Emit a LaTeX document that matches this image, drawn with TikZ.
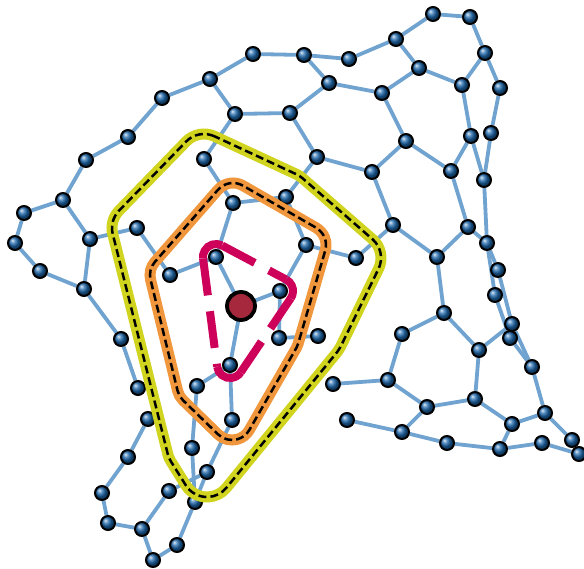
\documentclass[tikz,border=0pt]{standalone}
\usetikzlibrary{calc}
\definecolor{edgec}{RGB}{112,163,207}
\definecolor{nodec}{RGB}{28,102,170}
\definecolor{yel}{RGB}{208,212,30}
\definecolor{orn}{RGB}{240,150,60}
\definecolor{mag}{RGB}{205,0,90}
\definecolor{ctr}{RGB}{165,40,60}
\pgfdeclarelayer{bg}
\pgfsetlayers{bg,main}
\tikzset{
  nd/.style={circle, draw=black, line width=2pt, minimum size=14pt, inner sep=0pt, shading=ball, ball color=nodec},
  ed/.style={draw=edgec, line width=3.8pt},
  ctrnode/.style={circle, draw=black, line width=3.8pt, fill=ctr, minimum size=28pt, inner sep=0pt},
  hullo/.style={draw=black, line width=2.5pt, dash pattern=on 8pt off 4pt, preaction={draw=orn, line width=11pt, solid}},
  hully/.style={draw=black, line width=2.5pt, dash pattern=on 8pt off 4pt, preaction={draw=yel, line width=11pt, solid}},
  magside/.style={draw=mag, line width=8pt, dash pattern=on 37pt off 16pt},
  magarc/.style={draw=mag, line width=8pt}
}
\begin{document}
\begin{tikzpicture}[x=1pt,y=-1pt]
\useasboundingbox (0,0) rectangle (584,569);
\foreach \n/\x/\y in {
 n1/433/14, n2/470/17, n3/396/39, n4/485/53, n5/253/54, n6/304/55, n7/349/59, n8/419/68,
 n9/210/79, n10/329/83, n11/382/93, n12/462/85, n13/500/88, n14/162/98, n15/235/114, n16/290/113,
 n17/128/137, n18/471/136, n19/491/133, n20/86/160, n21/204/159, n22/317/157, n23/406/141, n24/372/172,
 n25/451/171, n26/484/180, n27/63/200, n28/24/213, n29/286/197, n30/233/203, n31/15/243, n32/90/239,
 n33/137/228, n34/393/225, n35/468/227, n36/40/271, n37/170/275, n38/216/257, n39/306/245, n40/356/258,
 n41/437/257, n42/487/243, n43/498/270, n44/84/289, n45/280/291, n46/495/295, n47/444/313,
 n49/121/339, n50/318/336, n51/512/324, n52/510/338, n53/402/334, n54/279/338, n55/479/350, n56/532/367,
 n57/230/365, n58/197/386, n59/138/388, n60/333/384, n61/388/380, n62/148/419, n63/232/420, n64/347/420,
 n65/427/407, n66/475/399, n67/402/432, n68/447/443, n69/500/449, n70/512/424, n71/545/413, n72/542/443,
 n73/572/440, n74/579/454, n75/128/457, n76/192/448, n77/207/472, n78/102/493, n79/169/491, n80/195/502,
 n81/108/523, n82/142/529, n83/177/545, n84/153/560}
 {\node[nd] (\n) at (\x,\y) {};}
\coordinate (c) at (241,306);
\begin{pgfonlayer}{bg}
\foreach \a/\b in {n1/n2,n1/n3,n2/n4,n3/n8,n3/n7,n4/n12,n4/n13,n8/n12,n8/n11,n12/n18,n13/n19,n19/n26,n18/n25,n18/n26,n11/n23,n23/n25,n23/n24,n25/n35,n26/n42,
n5/n6,n5/n9,n9/n14,n6/n7,n6/n10,n10/n16,n10/n11,n15/n16,n15/n9,n15/n21,n16/n22,n22/n24,n22/n29,n24/n34,n21/n30,
n14/n17,n17/n20,n20/n27,n27/n28,n27/n32,n28/n31,n31/n36,n36/n44,n32/n44,n32/n33,n33/n37,n37/n38,n44/n49,n49/n59,
n30/n29,n30/n38,n29/n39,n38/c,n39/n40,n39/n45,n45/c,n45/n54,c/n57,n54/n50,n57/n58,n57/n63,n40/n34,
n34/n41,n35/n41,n35/n42,n42/n43,n42/n46,n43/n51,n46/n52,n41/n47,n47/n53,n47/n55,n55/n51,n51/n56,n52/n56,n55/n66,n53/n61,
n60/n61,n64/n67,n61/n65,n65/n66,n65/n67,n66/n70,n70/n71,n70/n69,n71/n56,n71/n73,n67/n68,n68/n69,n69/n72,n72/n74,
n58/n76,n63/n77,n76/n80,n77/n79,n77/n80,n80/n83,n79/n82,n82/n84,n84/n83,n82/n81,n81/n78,n78/n75,n75/n62}
 {\draw[ed] (\a) -- (\b);}
\end{pgfonlayer}
% yellow hull (3-hop)
\draw[hully] let \p1=(n21.center), \p2=(n33.center), \p3=(n76.center), \p4=(n77.center), \p5=(n50.center), \p6=(n40.center), \p7=(n29.center),
 \n1={atan2((\y2)-(\y1),(\x2)-(\x1))},
 \n2={atan2((\y3)-(\y2),(\x3)-(\x2))},
 \n3={atan2((\y4)-(\y3),(\x4)-(\x3))},
 \n4={atan2((\y5)-(\y4),(\x5)-(\x4))},
 \n5={atan2((\y6)-(\y5),(\x6)-(\x5))},
 \n6={atan2((\y7)-(\y6),(\x7)-(\x6))},
 \n7={atan2((\y1)-(\y7),(\x1)-(\x7))}
 in ($(\p1)+(\n7-90:25pt)$) arc[start angle=\n7-90, delta angle={mod(\n1-\n7+720,360)}, radius=25pt]
 -- ($(\p2)+(\n1-90:25pt)$) arc[start angle=\n1-90, delta angle={mod(\n2-\n1+720,360)}, radius=25pt]
 -- ($(\p3)+(\n2-90:25pt)$) arc[start angle=\n2-90, delta angle={mod(\n3-\n2+720,360)}, radius=25pt]
 -- ($(\p4)+(\n3-90:25pt)$) arc[start angle=\n3-90, delta angle={mod(\n4-\n3+720,360)}, radius=25pt]
 -- ($(\p5)+(\n4-90:25pt)$) arc[start angle=\n4-90, delta angle={mod(\n5-\n4+720,360)}, radius=25pt]
 -- ($(\p6)+(\n5-90:25pt)$) arc[start angle=\n5-90, delta angle={mod(\n6-\n5+720,360)}, radius=25pt]
 -- ($(\p7)+(\n6-90:25pt)$) arc[start angle=\n6-90, delta angle={mod(\n7-\n6+720,360)}, radius=25pt]
 -- cycle;
% orange hull (2-hop)
\draw[hullo] let \p1=(n30.center), \p2=(n37.center), \p3=(n58.center), \p4=(n63.center), \p5=(n54.center), \p6=(n39.center),
 \n1={atan2((\y2)-(\y1),(\x2)-(\x1))},
 \n2={atan2((\y3)-(\y2),(\x3)-(\x2))},
 \n3={atan2((\y4)-(\y3),(\x4)-(\x3))},
 \n4={atan2((\y5)-(\y4),(\x5)-(\x4))},
 \n5={atan2((\y6)-(\y5),(\x6)-(\x5))},
 \n6={atan2((\y1)-(\y6),(\x1)-(\x6))}
 in ($(\p1)+(\n6-90:20pt)$) arc[start angle=\n6-90, delta angle={mod(\n1-\n6+720,360)}, radius=20pt]
 -- ($(\p2)+(\n1-90:20pt)$) arc[start angle=\n1-90, delta angle={mod(\n2-\n1+720,360)}, radius=20pt]
 -- ($(\p3)+(\n2-90:20pt)$) arc[start angle=\n2-90, delta angle={mod(\n3-\n2+720,360)}, radius=20pt]
 -- ($(\p4)+(\n3-90:20pt)$) arc[start angle=\n3-90, delta angle={mod(\n4-\n3+720,360)}, radius=20pt]
 -- ($(\p5)+(\n4-90:20pt)$) arc[start angle=\n4-90, delta angle={mod(\n5-\n4+720,360)}, radius=20pt]
 -- ($(\p6)+(\n5-90:20pt)$) arc[start angle=\n5-90, delta angle={mod(\n6-\n5+720,360)}, radius=20pt]
 -- cycle;
% magenta hull (1-hop)
\draw[magside] ($(n38.center)!13pt!-90:(n57.center)$) -- ($(n57.center)!13pt!90:(n38.center)$)
 ($(n57.center)!13pt!-90:(n45.center)$) -- ($(n45.center)!13pt!90:(n57.center)$)
 ($(n38.center)!13pt!90:(n45.center)$) -- ($(n45.center)!13pt!-90:(n38.center)$);
\draw[magarc] let \p1=(n38.center), \p2=(n57.center), \p3=(n45.center),
 \n1={atan2((\y2)-(\y1),(\x2)-(\x1))},
 \n2={atan2((\y3)-(\y2),(\x3)-(\x2))},
 \n3={atan2((\y1)-(\y3),(\x1)-(\x3))}
 in ($(\p1)+(\n3-90:13pt)$) arc[start angle=\n3-90, delta angle={mod(\n1-\n3+720,360)}, radius=13pt]
 ($(\p2)+(\n1-90:13pt)$) arc[start angle=\n1-90, delta angle={mod(\n2-\n1+720,360)}, radius=13pt]
 ($(\p3)+(\n2-90:13pt)$) arc[start angle=\n2-90, delta angle={mod(\n3-\n2+720,360)}, radius=13pt];
\node[ctrnode] (ctrn) at (c) {};
\end{tikzpicture}
\end{document}
